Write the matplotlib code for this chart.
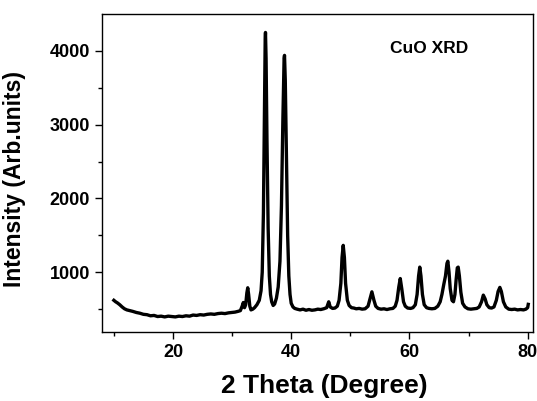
import matplotlib.pyplot as plt
import numpy as np

plt.rcParams['font.family'] = ['Liberation Sans', 'DejaVu Sans']
plt.rcParams['font.weight'] = 'bold'

# 2 theta (deg) and intensity
two_theta = [10.0, 10.3, 10.6, 11.0, 11.4, 11.8, 12.2, 12.7, 13.2, 13.8, 14.4, 15.0,
             15.6, 16.2, 16.8, 17.4, 18.0, 18.6, 19.2, 19.8, 20.4, 21.0, 21.6, 22.2,
             22.8, 23.4, 24.0, 24.6, 25.2, 25.8, 26.4, 27.0, 27.6, 28.2, 28.8, 29.4,
             30.0, 30.5, 31.0, 31.4, 31.7, 31.9, 32.1, 32.3, 32.5, 32.65, 32.8, 33.0,
             33.2, 33.5, 33.8, 34.2, 34.6, 34.9, 35.1, 35.3, 35.45, 35.6, 35.65, 35.75,
             35.9, 36.1, 36.3, 36.5, 36.7, 36.95, 37.2, 37.5, 37.8, 38.1, 38.35, 38.6,
             38.8, 38.87, 39.0, 39.2, 39.4, 39.6, 39.8, 40.0, 40.3, 40.6, 41.0, 41.5,
             42.0, 42.5, 43.0, 43.5, 44.0, 44.5, 45.0, 45.5, 46.0, 46.35, 46.6, 47.0,
             47.4, 47.8, 48.1, 48.4, 48.6, 48.8, 49.0, 49.2, 49.5, 49.8, 50.2, 50.6,
             51.0, 51.5, 52.0, 52.5, 53.0, 53.3, 53.65, 54.0, 54.3, 54.7, 55.2, 55.7,
             56.2, 56.7, 57.2, 57.6, 57.9, 58.2, 58.45, 58.7, 59.0, 59.3, 59.7, 60.2,
             60.6, 61.0, 61.3, 61.55, 61.75, 61.95, 62.2, 62.5, 62.9, 63.3, 63.8, 64.3,
             64.8, 65.2, 65.5, 65.8, 66.1, 66.35, 66.5, 66.7, 66.9, 67.2, 67.45, 67.7,
             67.9, 68.1, 68.25, 68.45, 68.7, 69.0, 69.4, 69.9, 70.4, 70.9, 71.4, 71.8,
             72.2, 72.5, 72.8, 73.1, 73.5, 73.9, 74.3, 74.7, 75.0, 75.3, 75.55, 75.9,
             76.3, 76.8, 77.3, 77.8, 78.3, 78.8, 79.3, 79.7, 80.0, 80.1]
intensity = [620, 600, 585, 560, 530, 505, 490, 480, 470, 455, 445, 430,
             425, 410, 415, 400, 405, 395, 405, 400, 395, 405, 400, 410,
             405, 420, 415, 425, 420, 430, 435, 430, 440, 445, 440, 450,
             455, 460, 470, 480, 540, 590, 520, 560, 720, 790, 700, 540,
             490, 500, 520, 560, 620, 750, 1000, 1800, 3000, 4150, 4250, 3900,
             2800, 1600, 950, 700, 600, 550, 570, 650, 800, 1150, 1900, 3100,
             3900, 3940, 3600, 2500, 1500, 950, 700, 580, 530, 510, 500, 490,
             500, 485, 495, 485, 490, 500, 495, 505, 520, 600, 530, 510,
             515, 540, 620, 850, 1200, 1365, 1200, 850, 620, 550, 520, 515,
             505, 510, 500, 505, 540, 630, 735, 620, 540, 510, 500, 505,
             495, 505, 510, 540, 620, 800, 915, 780, 600, 540, 515, 510,
             520, 560, 700, 950, 1070, 950, 700, 560, 520, 510, 505, 510,
             540, 600, 700, 830, 950, 1120, 1150, 1000, 780, 620, 600, 700,
             900, 1060, 1070, 950, 730, 580, 530, 505, 500, 505, 510, 530,
             600, 690, 640, 560, 520, 515, 530, 620, 740, 795, 740, 600,
             530, 500, 495, 500, 490, 495, 490, 500, 520, 565]

fig = plt.figure(figsize=(5.37, 4.01), dpi=100)
ax = fig.add_axes([0.19, 0.172, 0.8025, 0.793])
ax.plot(two_theta, intensity, c='k', lw=2.4, solid_joinstyle='round')

ax.set_xlim(8.0, 80.9)
ax.set_ylim(190, 4500)
ax.set_xticks([20, 40, 60, 80])
ax.set_xticks([10, 30, 50, 70], minor=True)
ax.set_yticks([1000, 2000, 3000, 4000])
ax.set_yticks([500, 1500, 2500, 3500], minor=True)
ax.tick_params(which='both', direction='out', top=False, right=False, width=1)
ax.tick_params(which='major', length=5, labelsize=13)
ax.tick_params(which='minor', length=3)
for s in ax.spines.values():
    s.set_linewidth(1)

ax.set_xlabel('2 Theta (Degree)', fontsize=19, fontweight='bold')
ax.xaxis.set_label_coords(0.515, -0.132)
ax.set_ylabel('Intensity (Arb.units)', fontsize=16.5, fontweight='bold')
ax.yaxis.set_label_coords(-0.177, 0.48)
ax.text(0.668, 0.893, 'CuO XRD', transform=ax.transAxes, fontsize=12.5,
        fontweight='bold', va='center', ha='left')

plt.savefig('out.png')
